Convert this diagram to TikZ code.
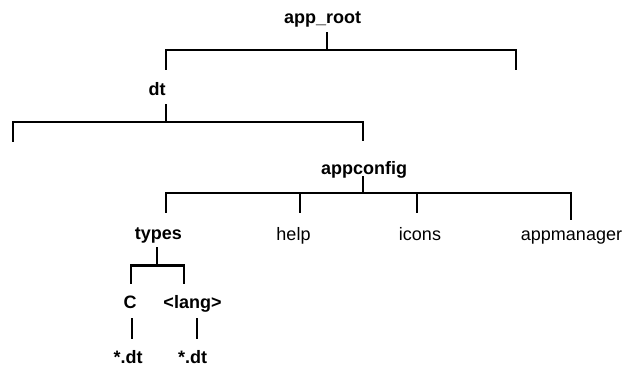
\documentclass[tikz,border=0pt]{standalone}
\usepackage{fontspec}
\setmainfont{Liberation Sans}
\begin{document}
\begin{tikzpicture}[x=1pt,y=-1pt,
  lbl/.style={anchor=base,inner sep=0pt,font=\fontsize{18}{20}\selectfont},
  blbl/.style={lbl,font=\fontsize{18}{20}\selectfont\bfseries},
  tree/.style={line width=2.2pt,line cap=rect}]
\useasboundingbox (0,0) rectangle (626,367);
% labels
\node[blbl] (root) at (322.5,23) {app\_root};
\node[blbl] (dt) at (157,95) {dt};
\node[blbl] (appconfig) at (364,174.5) {appconfig};
\node[blbl] (types) at (158.5,239.5) {types};
\node[lbl] (help) at (293.5,240) {help};
\node[lbl] (icons) at (420,240) {icons};
\node[lbl] (appmanager) at (571.5,240) {appmanager};
\node[blbl] (c) at (130,308) {C};
\node[blbl] (lang) at (192.5,308) {<lang>};
\node[blbl] (dtc) at (128,363) {*.dt};
\node[blbl] (dtl) at (192.5,363) {*.dt};
% app_root
\coordinate (r1) at (327,33);
\coordinate (r2) at (327,50);
\coordinate (rl) at (165.7,50);
\coordinate (rr) at (516,50);
\draw[tree] (r1) -- (r2);
\draw[tree] (rl) ++(0,18.5) -- (rl) -- (rr) -- ++(0,18.5);
% dt
\coordinate (d1) at (165.7,105);
\coordinate (d2) at (165.7,122);
\coordinate (dl) at (13,122);
\coordinate (dr) at (362.7,122);
\draw[tree] (d1) -- (d2);
\draw[tree] (dl) ++(0,19) -- (dl) -- (dr) -- ++(0,18);
% appconfig
\coordinate (a1) at (363,177);
\coordinate (a2) at (363,193);
\coordinate (al) at (165.7,193);
\coordinate (ah) at (300,193);
\coordinate (ai) at (416.7,193);
\coordinate (ar) at (571,193);
\draw[tree] (a1) -- (a2);
\draw[tree] (al) ++(0,19) -- (al) -- (ar) -- ++(0,26);
\draw[tree] (ah) -- ++(0,19);
\draw[tree] (ai) -- ++(0,19);
% types
\coordinate (t1) at (157.3,248.5);
\coordinate (t2) at (157.3,265.5);
\coordinate (tl) at (130.7,265.5);
\coordinate (tr) at (184,265.5);
\draw[tree] (t1) -- (t2);
\draw[tree] (tl) ++(0,17.5) -- (tl) -- (tr) -- ++(0,17.5);
% leaves
\coordinate (c1) at (131.5,319);
\coordinate (c2) at (131.5,338);
\coordinate (l1) at (196.5,319);
\coordinate (l2) at (196.5,338);
\draw[tree,line width=2pt] (c1) -- (c2);
\draw[tree,line width=2pt] (l1) -- (l2);
\end{tikzpicture}
\end{document}
